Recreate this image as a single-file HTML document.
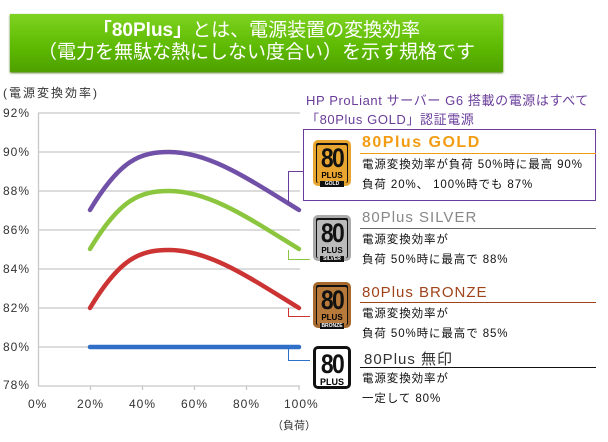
<!DOCTYPE html><html><head><meta charset="utf-8"><style>
body{margin:0;width:608px;height:442px;background:#fff;overflow:hidden;font-family:"Liberation Sans","Noto Sans CJK JP",sans-serif;position:relative}
.ban{position:absolute;left:10px;top:14px;width:493px;height:58px;background:linear-gradient(#7ed321,#5cb800 60%,#4fa000);box-shadow:0 1px 2px #4a7a10;color:#fff;text-align:center;font-size:19px;line-height:22px;padding-top:6px;box-sizing:border-box}
.t{position:absolute;white-space:nowrap}
.badge{position:absolute;width:38px;height:46px;border-radius:5px;box-sizing:border-box;text-align:center;font-weight:bold}
.badge .n{font-size:27px;line-height:27px;margin-top:2px;letter-spacing:-2px;transform:scaleX(.85);color:#111}
.badge .p{font-size:8px;line-height:8px}
.badge .s{font-size:5px;background:#111;color:#fff;margin:1px 3px;line-height:6px}
.h{position:absolute;left:360px;width:236px;border-bottom:1.5px solid}
.d{position:absolute;left:362px;font-size:11.5px;line-height:20px;color:#111;letter-spacing:0.9px;white-space:nowrap}
</style></head><body>
<div class="ban"><b>「80Plus」</b>とは、電源装置の変換効率<br>（電力を無駄な熱にしない度合い）を示す規格です</div>
<div class="t" style="left:3px;top:84px;font-size:12px;color:#333;letter-spacing:2px">(電源変換効率)</div>
<div class="t" style="left:306px;top:91px;font-size:13px;color:#6a3d9a;line-height:19px;letter-spacing:0.6px">HP ProLiant サーバー G6 搭載の電源はすべて<br>「80Plus GOLD」認証電源</div>
<svg width="608" height="442" style="position:absolute;left:0;top:0">
<g stroke="#c8c8c8" stroke-width="1.3">
<line x1="38" y1="113" x2="300" y2="113"/><line x1="38" y1="152" x2="300" y2="152"/><line x1="38" y1="191" x2="300" y2="191"/><line x1="38" y1="230" x2="300" y2="230"/><line x1="38" y1="269" x2="300" y2="269"/><line x1="38" y1="308" x2="300" y2="308"/><line x1="38" y1="347" x2="300" y2="347"/><line x1="38" y1="386" x2="300" y2="386"/>
<line x1="38.5" y1="113" x2="38.5" y2="386"/>
<line x1="90.5" y1="386" x2="90.5" y2="390"/><line x1="142.5" y1="386" x2="142.5" y2="390"/><line x1="194.5" y1="386" x2="194.5" y2="390"/><line x1="246.5" y1="386" x2="246.5" y2="390"/><line x1="299" y1="386" x2="299" y2="390"/>
</g>
<g fill="#333" font-size="12" font-family="Liberation Sans,sans-serif" letter-spacing="1">
<text x="3" y="117">92%</text><text x="3" y="156">90%</text><text x="3" y="195">88%</text><text x="3" y="234">86%</text><text x="3" y="273">84%</text><text x="3" y="312">82%</text><text x="3" y="351">80%</text><text x="3" y="389">78%</text>
<text x="28" y="408">0%</text><text x="77" y="408">20%</text><text x="129" y="408">40%</text><text x="181" y="408">60%</text><text x="233" y="408">80%</text><text x="284" y="408">100%</text>
</g>
<text x="272" y="429" font-size="11" fill="#333" font-family="Liberation Sans,Noto Sans CJK JP,sans-serif">（負荷）</text>
<g fill="none" stroke-width="4.5" stroke-linecap="round">
<path d="M90,210 C120,160 140,152 169,152 C210,152 250,180 299,210" stroke="#7150a8"/>
<path d="M90,249 C120,199 140,191 169,191 C210,191 250,219 299,249" stroke="#8cc63f"/>
<path d="M90,308 C120,258 140,250 169,250 C210,250 250,278 299,308" stroke="#cc3333"/>
<path d="M90,347 L299,347" stroke="#2f6fc8"/>
</g>
<g fill="none" stroke-width="1">
<path d="M288.5,203 V171.5 H303" stroke="#6a3d9a"/>
<path d="M288.5,250 V259.5 H310" stroke="#8cc63f"/>
<path d="M288.5,308 V316.5 H310" stroke="#cc3333"/>
<path d="M288.5,347 V360.5 H310" stroke="#2f6fc8"/>
<rect x="303.5" y="129.5" width="292" height="71" stroke="#6a3d9a"/>
</g>
</svg>
<div class="badge" style="left:313px;top:140px;background:#111;border:3px solid #e8a630"><div style="background:#e8a630;margin:1px;height:38px;border-radius:2px"><div class="n">80</div><div class="p">PLUS</div><div class="s">GOLD</div></div></div>
<div class="badge" style="left:313px;top:215px;background:#111;border:3px solid #aaa"><div style="background:#bbb;margin:1px;height:38px;border-radius:2px"><div class="n">80</div><div class="p">PLUS</div><div class="s">SILVER</div></div></div>
<div class="badge" style="left:313px;top:282px;background:#111;border:3px solid #a8692e"><div style="background:#b87a3a;margin:1px;height:38px;border-radius:2px"><div class="n">80</div><div class="p">PLUS</div><div class="s">BRONZE</div></div></div>
<div class="badge" style="left:313px;top:346px;background:#fff;border:3px solid #111;height:43px"><div class="n">80</div><div class="p" style="font-size:9px">PLUS</div></div>
<div class="t" style="left:362px;top:134px;font-size:16px;font-weight:bold;color:#f39c12;letter-spacing:1.5px">80Plus GOLD</div>
<div class="h" style="top:153px;border-color:#f39c12"></div>
<div class="d" style="top:155px">電源変換効率が負荷 50%時に最高 90%<br>負荷 20%、 100%時でも 87%</div>
<div class="t" style="left:362px;top:209px;font-size:15px;color:#888;letter-spacing:1px">80Plus SILVER</div>
<div class="h" style="top:228px;border-color:#666"></div>
<div class="d" style="top:230px">電源変換効率が<br>負荷 50%時に最高で 88%</div>
<div class="t" style="left:362px;top:284px;font-size:15px;color:#a0431a;letter-spacing:1px">80Plus BRONZE</div>
<div class="h" style="top:302px;border-color:#a0431a"></div>
<div class="d" style="top:304px">電源変換効率が<br>負荷 50%時に最高で 85%</div>
<div class="t" style="left:364px;top:348px;font-size:15px;color:#333;letter-spacing:1px">80Plus 無印</div>
<div class="h" style="top:367px;border-color:#111"></div>
<div class="d" style="top:369px">電源変換効率が<br>一定して 80%</div>
</body></html>
